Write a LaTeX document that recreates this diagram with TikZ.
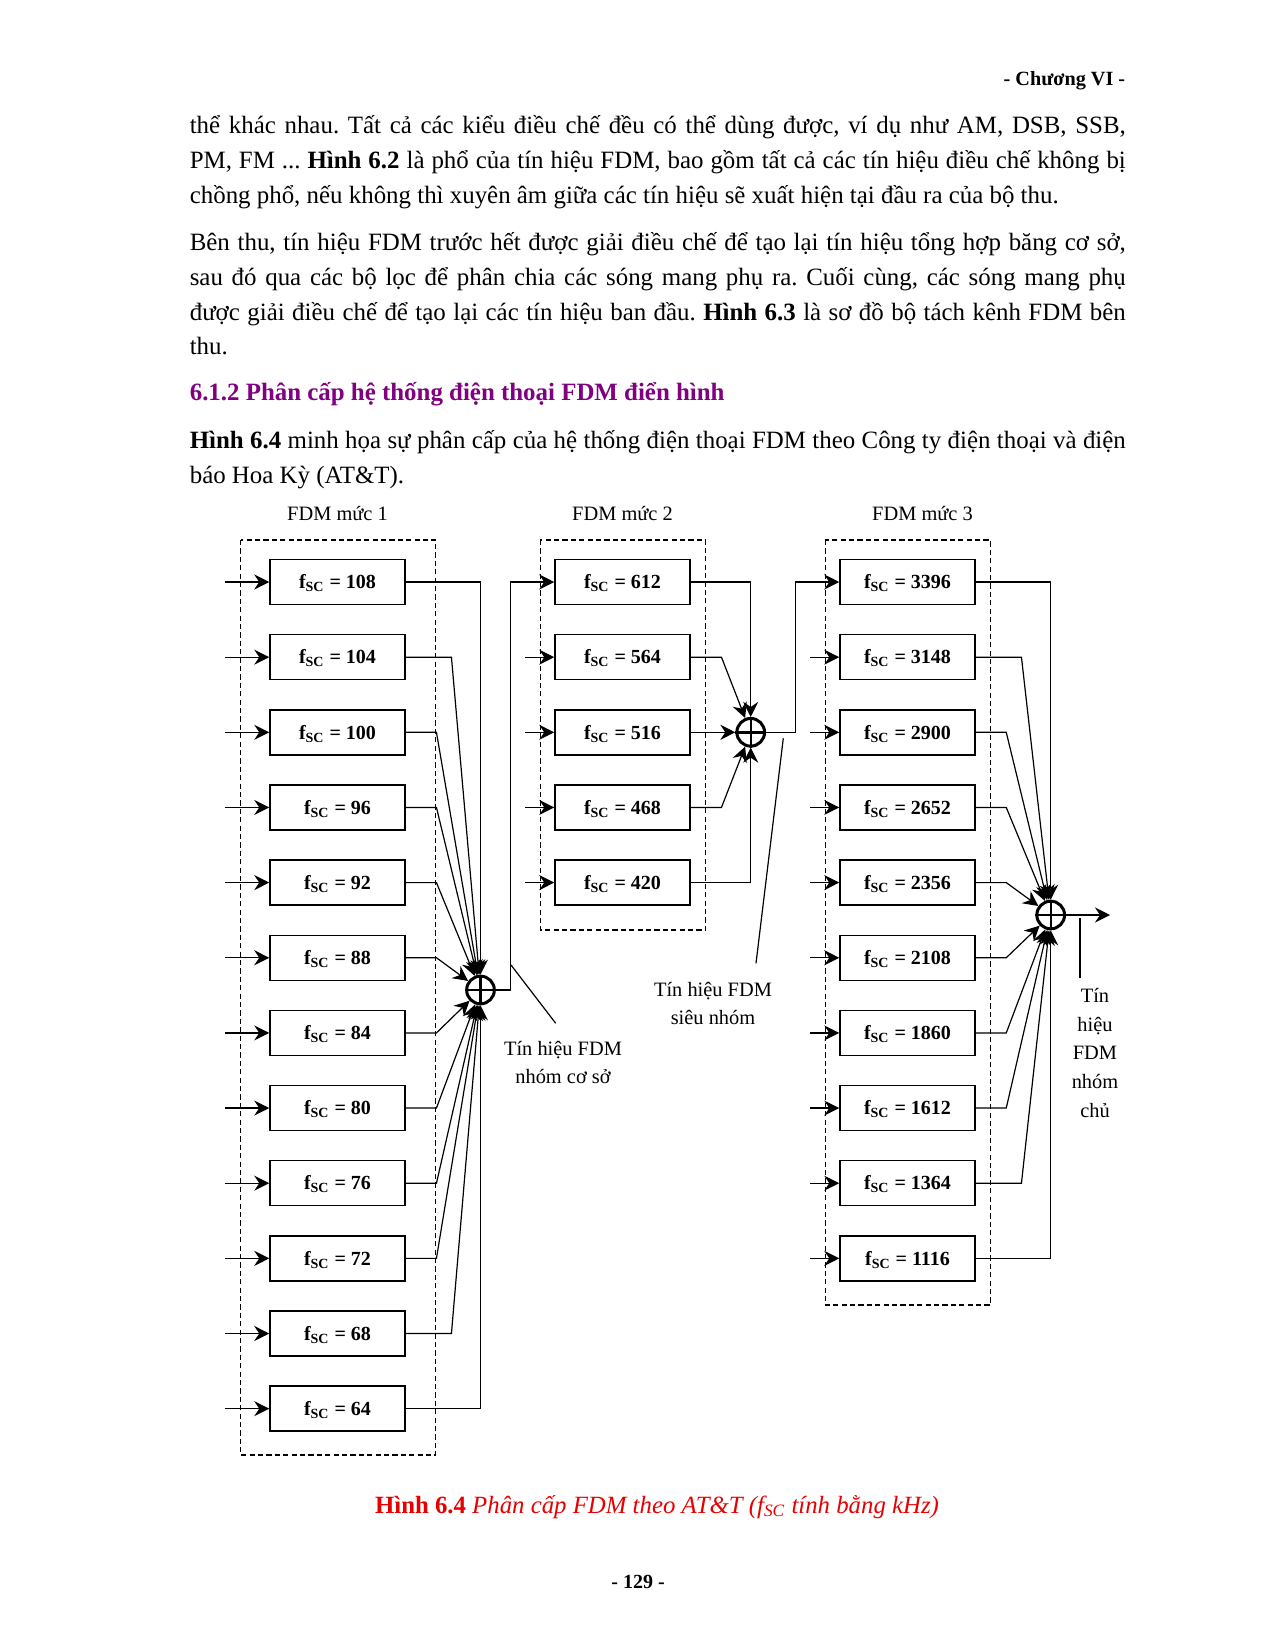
\documentclass[tikz,border=0pt]{standalone}
\usepackage{fontspec}
\setmainfont{Liberation Serif}
\usetikzlibrary{arrows.meta}
\definecolor{headpurple}{RGB}{128,0,128}
\definecolor{capred}{RGB}{230,0,0}
\newcommand\bodyfont{\fontsize{12.45}{15}\selectfont}
\newcommand\diafont{\fontsize{10.2}{12}\selectfont}
\frenchspacing
\begin{document}
\begin{tikzpicture}[x=0.5pt,y=-0.5pt,
  arr/.style={line width=0.6pt,-{Stealth[length=7.5pt,width=7.5pt,inset=2.5pt]}},
  wire/.style={line width=0.6pt},
  fbox/.style={draw,line width=0.75pt,minimum width=67.5pt,minimum height=22.5pt,inner sep=0pt,
    font=\fontsize{10}{12}\selectfont\bfseries,text height=0.676em,text depth=0pt},
  dbox/.style={draw,dashed,line width=0.6pt,dash pattern=on 2.6pt off 1.6pt},
  summer/.style={circle,draw,line width=1.5pt,minimum size=13.85pt,inner sep=0pt},
  lbl/.style={inner sep=0pt,font=\diafont,anchor=base},
  body/.style={inner sep=0pt,anchor=base west,font=\bodyfont}]
\useasboundingbox (0,0) rectangle (1274,1649);
\fill[white] (0,0) rectangle (1274,1649);

% ---------- page text ----------
\node[inner sep=0pt,anchor=base east,font=\fontsize{10.1}{12}\selectfont\bfseries] (hdr) at (1125.6,85) {- Chương VI -};
\node[body] (p1a) at (189.4,133) {\makebox[468pt][s]{thể khác nhau. Tất cả các kiểu điều chế đều có thể dùng được, ví dụ như AM, DSB, SSB,}};
\node[body] (p1b) at (189.4,168) {\makebox[468pt][s]{PM, FM ... \textbf{Hình 6.2} là phổ của tín hiệu FDM, bao gồm tất cả các tín hiệu điều chế không bị}};
\node[body] (p1c) at (189.4,203) {chồng phổ, nếu không thì xuyên âm giữa các tín hiệu sẽ xuất hiện tại đầu ra của bộ thu.};
\node[body] (p2a) at (189.4,250) {\makebox[468pt][s]{Bên thu, tín hiệu FDM trước hết được giải điều chế để tạo lại tín hiệu tổng hợp băng cơ sở,}};
\node[body] (p2b) at (189.4,285) {\makebox[468pt][s]{sau đó qua các bộ lọc để phân chia các sóng mang phụ ra. Cuối cùng, các sóng mang phụ}};
\node[body] (p2c) at (189.4,320) {\makebox[468pt][s]{được giải điều chế để tạo lại các tín hiệu ban đầu. \textbf{Hình 6.3} là sơ đồ bộ tách kênh FDM bên}};
\node[body] (p2d) at (189.4,354) {thu.};
\node[body,text=headpurple,font=\bodyfont\bfseries] (h612) at (189.4,400) {6.1.2 Phân cấp hệ thống điện thoại FDM điển hình};
\node[body] (p3a) at (189.4,448) {\makebox[468pt][s]{\textbf{Hình 6.4} minh họa sự phân cấp của hệ thống điện thoại FDM theo Công ty điện thoại và điện}};
\node[body] (p3b) at (189.4,483) {báo Hoa Kỳ (AT\&T).};

% ---------- group titles ----------
\node[lbl] (t1) at (337.5,520) {FDM mức 1};
\node[lbl] (t2) at (622.5,520) {FDM mức 2};
\node[lbl] (t3) at (922.5,520) {FDM mức 3};

% ---------- dashed group frames ----------
\draw[dbox] (240.5,540) rectangle (435.7,1455);
\draw[dbox] (540.3,540) rectangle (705.7,930);
\draw[dbox] (825.3,540) rectangle (990.3,1305);

% ---------- boxes ----------
\foreach \v [count=\n from 0] in {108,104,100,96,92,88,84,80,76,72,68,64}{
  \node[fbox] (a\n) at (337.5,582+75.15*\n) {f\textsubscript{SC} = \v};
  \coordinate (ai\n) at (225,582+75.15*\n);
  \draw[arr] (ai\n) -- (a\n.west);
}
\foreach \v [count=\n from 0] in {612,564,516,468,420}{
  \node[fbox] (b\n) at (622.5,582+75.15*\n) {f\textsubscript{SC} = \v};
}
\foreach \n in {1,...,4}{
  \coordinate (bi\n) at (525,582+75.15*\n);
  \draw[arr] (bi\n) -- (b\n.west);
}
\foreach \v [count=\n from 0] in {3396,3148,2900,2652,2356,2108,1860,1612,1364,1116}{
  \node[fbox] (c\n) at (907.5,582+75.15*\n) {f\textsubscript{SC} = \v};
}
\foreach \n in {1,...,9}{
  \coordinate (ci\n) at (810,582+75.15*\n);
  \draw[arr] (ci\n) -- (c\n.west);
}

% ---------- summers ----------
\node[summer] (s1) at (480.5,990) {};
\node[summer] (s2) at (750.7,732.3) {};
\node[summer] (s3) at (1050.7,915) {};
\foreach \s in {s1,s2,s3}{
  \draw[line width=1.2pt] (\s.north) -- (\s.south) (\s.west) -- (\s.east);
}

% level 1 -> s1
\draw[arr] (a0.east) -| (s1.north);
\draw[arr] (a11.east) -| (s1.south);
\foreach \n in {1,10}{ \draw[arr] (a\n.east) -- ++(45.7,0) -- (s1); }
\foreach \n in {2,...,9}{ \draw[arr] (a\n.east) -- ++(30.7,0) -- (s1); }

% level 2 -> s2
\draw[arr] (b0.east) -| (s2.north);
\draw[arr] (b4.east) -| (s2.south);
\foreach \n in {1,3}{ \draw[arr] (b\n.east) -- ++(30.7,0) -- (s2); }
\draw[arr] (b2.east) -- (s2.west);

% level 3 -> s3
\draw[arr] (c0.east) -| (s3.north);
\draw[arr] (c9.east) -| (s3.south);
\foreach \n in {1,8}{ \draw[arr] (c\n.east) -- ++(45.7,0) -- (s3); }
\foreach \n in {2,...,7}{ \draw[arr] (c\n.east) -- ++(30.5,0) -- (s3); }

% summer outputs
\coordinate (j1) at (510.7,990);
\draw[arr] (s1.east) -- (j1) |- (b0.west);
\coordinate (j2) at (795.7,732.3);
\draw[arr] (s2.east) -- (j2) |- (c0.west);
\coordinate (o3) at (1110,915);
\draw[arr] (s3.east) -- (o3);

% ---------- signal labels ----------
\coordinate (k1a) at (511,965);
\coordinate (k1b) at (555.7,1023.3);
\draw[wire] (k1a) -- (k1b);
\node[lbl] (n1a) at (563,1055) {Tín hiệu FDM};
\node[lbl] (n1b) at (563,1083) {nhóm cơ sở};

\coordinate (k2a) at (783.3,738.3);
\coordinate (k2b) at (756,963.3);
\draw[wire] (k2a) -- (k2b);
\node[lbl] (n2a) at (713,996) {Tín hiệu FDM};
\node[lbl] (n2b) at (713,1024) {siêu nhóm};

\coordinate (k3a) at (1080,918);
\coordinate (k3b) at (1080,978);
\draw[wire] (k3a) -- (k3b);
\node[lbl] (n3a) at (1095,1002) {Tín};
\node[lbl] (n3b) at (1095,1031) {hiệu};
\node[lbl] (n3c) at (1095,1059) {FDM};
\node[lbl] (n3d) at (1095,1088) {nhóm};
\node[lbl] (n3e) at (1095,1117) {chủ};

% ---------- caption & page number ----------
\node[inner sep=0pt,anchor=base,text=capred,font=\fontsize{12.4}{15}\selectfont] (cap) at (657,1513)
  {\textbf{Hình 6.4} \textit{Phân cấp FDM theo AT\&T (f\textsubscript{SC} tính bằng kHz)}};
\node[inner sep=0pt,anchor=base,font=\fontsize{10}{12}\selectfont\bfseries] (pg) at (638,1588) {- 129 -};
\end{tikzpicture}
\end{document}
